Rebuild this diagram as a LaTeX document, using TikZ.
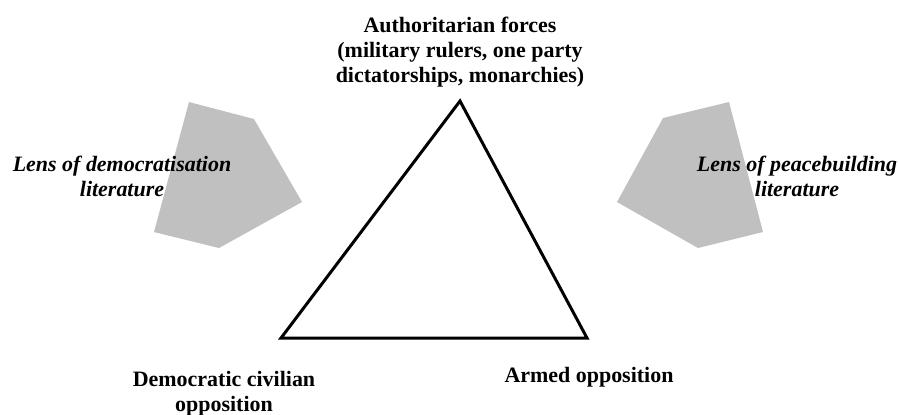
\documentclass[tikz,border=0pt]{standalone}
\usepackage{fontspec}
\setmainfont{Liberation Serif}
\definecolor{lensgray}{RGB}{192,192,192}
\tikzset{
	actor/.style={font=\fontsize{12.5}{14.2}\selectfont\bfseries, align=center, inner sep=0pt},
	lenslabel/.style={font=\fontsize{12.5}{14.2}\selectfont\bfseries\itshape, align=center, inner sep=0pt},
	lens/.style={fill=lensgray, draw=none}
}
\begin{document}
\begin{tikzpicture}[x=0.02cm, y=-0.02cm]
			\useasboundingbox (0,0) rectangle (898,414);
			\fill[lens](189,102)--(254,119)--(302,202)--(219,248)--(154,232)--cycle;
			\fill[lens](729,102)--(663,118)--(617,202)--(698,248)--(763,232)--cycle;
			\coordinate (apex) at (460,101);
			\coordinate (demcorner) at (281,338);
			\coordinate (armcorner) at (587,338);
			\draw[line width=1.7pt, line join=miter](apex)--(demcorner)--(armcorner)--cycle;
			\node[actor] (auth) at (460,52){Authoritarian forces\\(military rulers, one party\\dictatorships, monarchies)};
			\node[actor] (dem) at (224,394){Democratic civilian\\opposition};
			\node[actor] (arm) at (589,377){Armed opposition};
			\node[lenslabel] (demlens) at (122,176){Lens of democratisation\\literature};
			\node[lenslabel] (peacelens) at (797,176){Lens of peacebuilding\\literature};
		\end{tikzpicture}
\end{document}
